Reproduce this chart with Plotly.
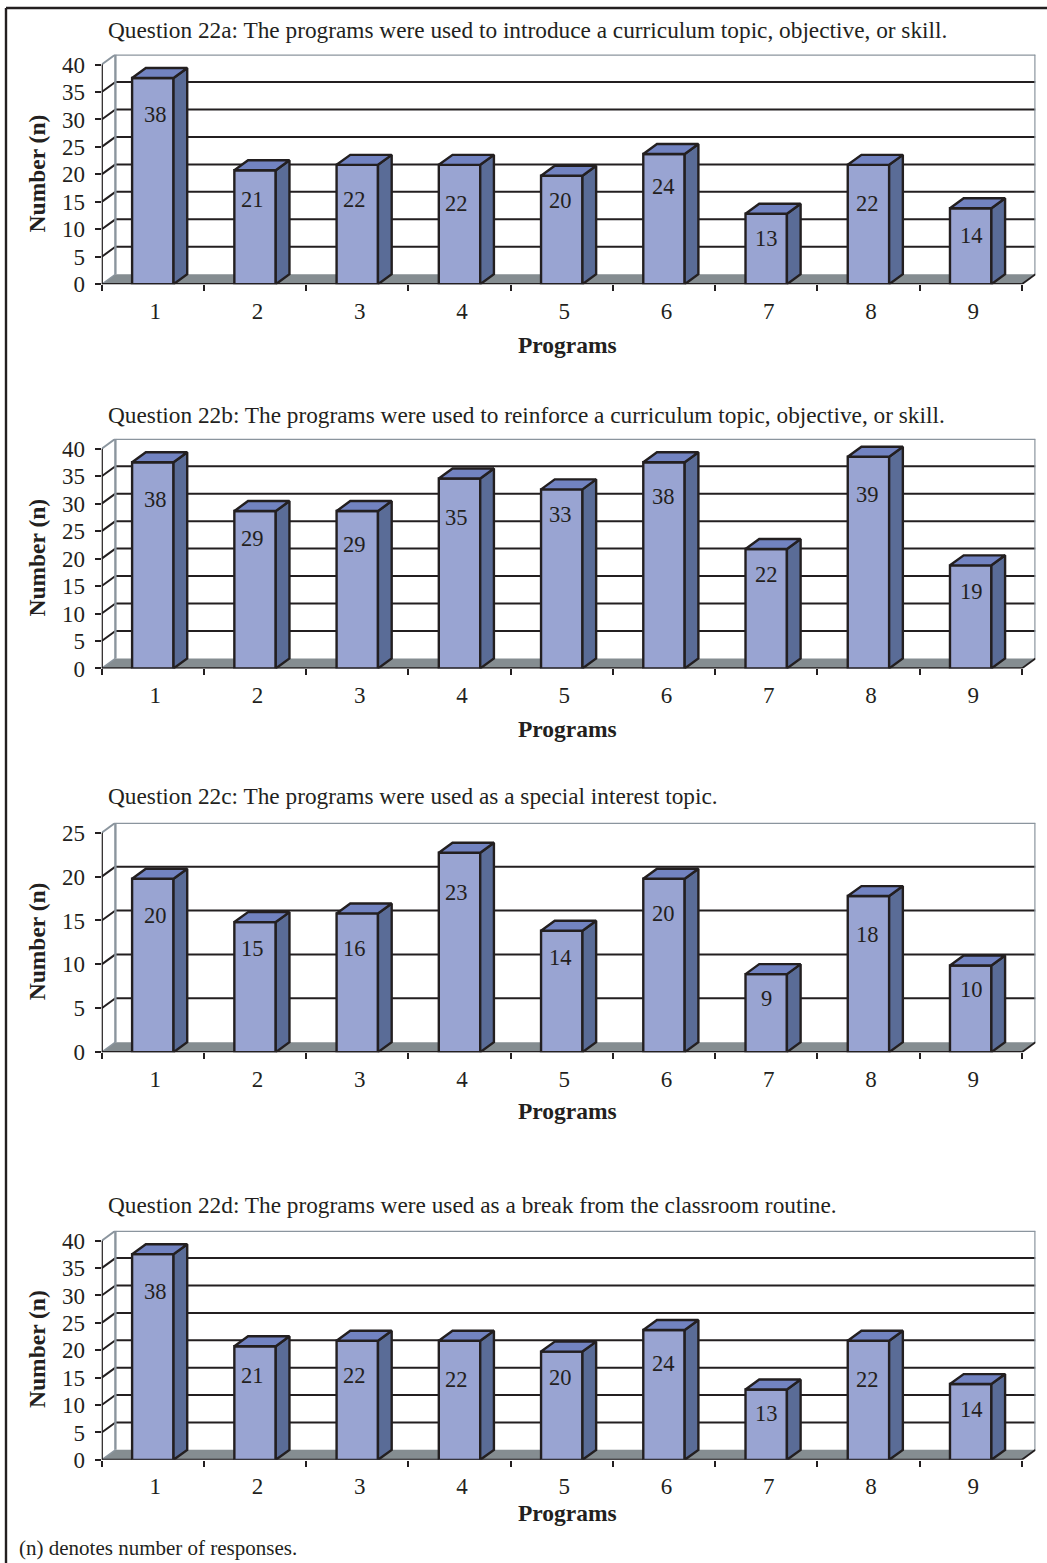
import plotly.graph_objects as go

# ---- data ----
programs = [1, 2, 3, 4, 5, 6, 7, 8, 9]
values_22a = [38, 21, 22, 22, 20, 24, 13, 22, 14]
values_22b = [38, 29, 29, 35, 33, 38, 22, 39, 19]
values_22c = [20, 15, 16, 23, 14, 20, 9, 18, 10]
values_22d = [38, 21, 22, 22, 20, 24, 13, 22, 14]
ticks_40 = [0, 5, 10, 15, 20, 25, 30, 35, 40]
ticks_25 = [0, 5, 10, 15, 20, 25]
titles = [
    "Question 22a: The programs were used to introduce a curriculum topic, objective, or skill.",
    "Question 22b: The programs were used to reinforce a curriculum topic, objective, or skill.",
    "Question 22c: The programs were used as a special interest topic.",
    "Question 22d: The programs were used as a break from the classroom routine.",
]
x_title = "Programs"
y_title = "Number (n)"
footnote = "(n) denotes number of responses."

# ---- style and layout ----
W, H = 1047, 1563
FIG_H = 1576
FONT = "Liberation Serif"
INK = "#231f20"
FRONT, SIDE, TOP = "#99a4d2", "#5a6c97", "#7283c1"
FLOOR, WALL = "#858d91", "#8b959e"
BAR_W = 0.405
HEIGHT_SCALE = 0.988
DEPTH_X_PX, DEPTH_Y_PX = 13.7, 10.0
CAT_PX = 102.2
LEFT_PX, RIGHT_PX = 101.7, 1035.5
LABEL_RISE = 1.5
# panel: floor y (px), wall top y (px), title y, x-title y
PANEL_PX = [
    (282.6, 52.6, 28, 343),
    (667.3, 437.3, 414, 728),
    (1051.5, 821.8, 795, 1110),
    (1459.7, 1230.3, 1205, 1513),
]
LABEL_DX = [3, -2.5, -2.5, -3, -1.3, 0, 0, -1, 1.3]
LABEL_DROP = [
    [38, 30.6, 36, 40, 26, 34.4, 26.3, 40, 28.3],
    [38.3, 29, 35, 40, 26.3, 36, 27, 39.4, 27.7],
    [38.3, 28.3, 36.3, 41, 28.7, 36.3, 25.7, 40, 25.4],
    [39, 30.7, 36.3, 40.3, 27.3, 34.7, 26, 40.3, 27.4],
]
series = [
    (values_22a, ticks_40),
    (values_22b, ticks_40),
    (values_22c, ticks_25),
    (values_22d, ticks_40),
]

fig = go.Figure()
shapes, annotations, layout = [], [], {}
DX = DEPTH_X_PX / CAT_PX
x_lo, x_hi = programs[0] - 0.5, programs[-1] + 0.5


def line(xr, yr, x0, y0, x1, y1, color, width):
    shapes.append(dict(type="line", xref=xr, yref=yr, x0=x0, y0=y0, x1=x1, y1=y1,
                       line=dict(color=color, width=width), layer="below"))


for i, ((vals, ticks), (y0_px, top_px, title_y, xt_y)) in enumerate(zip(series, PANEL_PX)):
    n = i + 1
    xr, yr = f"x{n}", f"y{n}"
    tmax = ticks[-1]
    DY = tmax * DEPTH_Y_PX / (y0_px - top_px - DEPTH_Y_PX)
    heights = [v * HEIGHT_SCALE for v in vals]

    layout[f"xaxis{n}"] = dict(
        domain=[LEFT_PX / W, RIGHT_PX / W], range=[x_lo, x_hi + DX], anchor=yr,
        showgrid=False, zeroline=False, showline=False, fixedrange=True,
        tickmode="array", tickvals=[p + 0.025 for p in programs],
        ticktext=[str(p) for p in programs], ticks="outside", ticklen=6,
        tickwidth=1, tickcolor="rgba(0,0,0,0)",
        tickfont=dict(family=FONT, size=23, color=INK),
        minor=dict(tickmode="array", tickvals=[p - 0.5 for p in programs] + [x_lo + 9],
                   ticks="outside", ticklen=6, tickwidth=2, tickcolor=INK, showgrid=False),
    )
    layout[f"yaxis{n}"] = dict(
        domain=[1 - y0_px / H, 1 - top_px / H], range=[0, tmax + DY], anchor=xr,
        showgrid=False, zeroline=False, showline=False, fixedrange=True,
        tickmode="array", tickvals=ticks, ticktext=[str(t) for t in ticks],
        ticks="outside", ticklen=6, tickwidth=2, tickcolor=INK,
        tickfont=dict(family=FONT, size=23, color=INK), ticklabelstandoff=5,
    )

    # floor and walls
    shapes.append(dict(type="path", xref=xr, yref=yr, layer="below",
                       path=f"M {x_lo} 0 L {x_hi} 0 L {x_hi + DX} {DY} L {x_lo + DX} {DY} Z",
                       fillcolor=FLOOR, line=dict(width=0)))
    for t in ticks[1:-1]:
        line(xr, yr, x_lo + DX, t + DY, x_hi + DX, t + DY, INK, 2)
        line(xr, yr, x_lo, t, x_lo + DX, t + DY, INK, 2)
    line(xr, yr, x_lo, tmax, x_lo + DX, tmax + DY, WALL, 2)
    line(xr, yr, x_lo, 0, x_lo + DX, DY, WALL, 1.5)
    line(xr, yr, x_lo + DX, DY, x_lo + DX, tmax + DY, WALL, 2.4)
    line(xr, yr, x_lo + DX, tmax + DY, x_hi + DX, tmax + DY, WALL, 2.4)
    line(xr, yr, x_hi + DX, DY, x_hi + DX, tmax + DY, WALL, 2.4)
    line(xr, yr, x_hi, 0, x_hi + DX, DY, INK, 1.8)
    line(xr, yr, x_lo, 0, x_hi, 0, INK, 2.4)
    line(xr, yr, x_lo, 0, x_lo, tmax, INK, 2.4)

    # front faces
    fig.add_trace(go.Bar(x=programs, y=heights, width=BAR_W, xaxis=xr, yaxis=yr,
                         marker=dict(color=FRONT, line=dict(color=INK, width=2.4)),
                         showlegend=False, hoverinfo="skip"))
    # side and top faces derived from the same values
    sx, sy, tx, ty = [], [], [], []
    for p, h in zip(programs, heights):
        l, r = p - BAR_W / 2, p + BAR_W / 2
        sx += [r, r + DX, r + DX, r, r, None]
        sy += [0, DY, h + DY, h, 0, None]
        tx += [l, r, r + DX, l + DX, l, None]
        ty += [h, h, h + DY, h + DY, h, None]
    fig.add_trace(go.Scatter(x=sx, y=sy, mode="lines", fill="toself", fillcolor=SIDE,
                             line=dict(color=INK, width=2.4), xaxis=xr, yaxis=yr,
                             showlegend=False, hoverinfo="skip"))
    fig.add_trace(go.Scatter(x=tx, y=ty, mode="lines", fill="toself", fillcolor=TOP,
                             line=dict(color=INK, width=2.4), xaxis=xr, yaxis=yr,
                             showlegend=False, hoverinfo="skip"))

    # value labels
    for p, v, h, dx, drop in zip(programs, vals, heights, LABEL_DX, LABEL_DROP[i]):
        annotations.append(dict(x=p, y=h, xref=xr, yref=yr, text=str(v), showarrow=False,
                                xshift=dx, yshift=LABEL_RISE - drop, xanchor="center",
                                yanchor="middle",
                                font=dict(family=FONT, size=22.5, color=INK)))
    # titles
    annotations.append(dict(x=106 / W, y=1 - title_y / H, xref="paper", yref="paper",
                            text=titles[i], showarrow=False, xanchor="left", yanchor="middle",
                            font=dict(family=FONT, size=23.3, color=INK)))
    annotations.append(dict(x=567 / W, y=1 - xt_y / H, xref="paper", yref="paper",
                            text=f"<b>{x_title}</b>", showarrow=False, xanchor="center",
                            yanchor="middle", font=dict(family=FONT, size=23.5, color=INK)))
    annotations.append(dict(x=37 / W, y=1 - (y0_px - 111) / H, xref="paper", yref="paper",
                            text=f"<b>{y_title}</b>", showarrow=False, textangle=-90,
                            xanchor="center", yanchor="middle",
                            font=dict(family=FONT, size=23.5, color=INK)))

annotations.append(dict(x=17 / W, y=1 - 1548 / H, xref="paper", yref="paper", text=footnote,
                        showarrow=False, xanchor="left", yanchor="middle",
                        font=dict(family=FONT, size=21, color=INK)))

# outer frame
shapes.append(dict(type="line", xref="paper", yref="paper", x0=6 / W, x1=6 / W, y0=0, y1=1 - 6 / H,
                   line=dict(color=INK, width=2.4), layer="above"))
shapes.append(dict(type="line", xref="paper", yref="paper", x0=6 / W, x1=1, y0=1 - 6 / H, y1=1 - 6 / H,
                   line=dict(color=INK, width=2.4), layer="above"))

fig.update_layout(width=W, height=FIG_H, margin=dict(l=0, r=0, t=0, b=0, pad=0), autosize=False,
                  plot_bgcolor="white", paper_bgcolor="white", showlegend=False,
                  shapes=shapes, annotations=annotations, **layout)
fig.write_html("out.html", include_plotlyjs=True, config={"displayModeBar": False},
               full_html=True, post_script="document.body.style.margin='0';document.documentElement.style.overflow='hidden';")
